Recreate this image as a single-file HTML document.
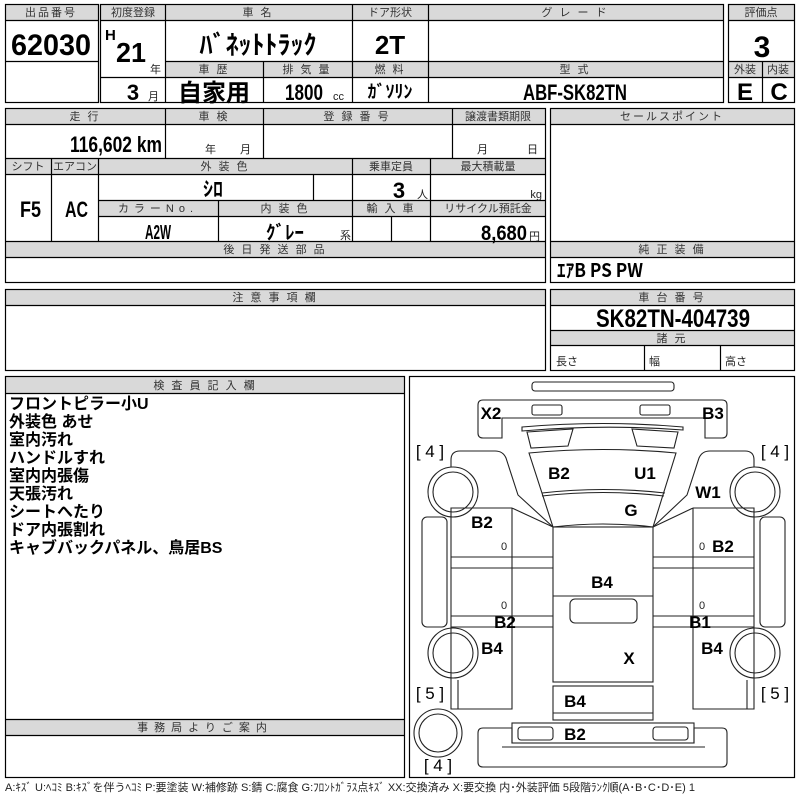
<!DOCTYPE html>
<html><head><meta charset="utf-8"><style>
html,body{margin:0;padding:0;background:#fff;}
svg{display:block;}
.h{font-family:"Liberation Sans","Noto Sans CJK JP",sans-serif;font-size:11px;fill:#333;text-anchor:middle;letter-spacing:2px;}
.v{font-family:"Liberation Sans Narrow","Liberation Sans","Noto Sans CJK JP",sans-serif;font-weight:bold;fill:#000;}
.s{font-family:"Liberation Sans","Noto Sans CJK JP",sans-serif;font-size:11px;fill:#222;}
.j{font-family:"Liberation Sans","Noto Sans CJK JP",sans-serif;font-weight:bold;font-size:16px;fill:#000;}
.d{font-family:"Liberation Sans","Noto Sans CJK JP",sans-serif;font-weight:bold;font-size:17px;fill:#000;text-anchor:middle;}
</style></head><body>
<svg width="800" height="800" viewBox="0 0 800 800" xmlns="http://www.w3.org/2000/svg">
<g fill="#d9d9d9" stroke="none">
<rect x="5" y="4" width="93" height="16"/>
<rect x="100" y="4" width="623" height="16"/>
<rect x="165" y="61" width="558" height="16"/>
<rect x="728" y="4" width="67" height="16"/>
<rect x="728" y="61" width="67" height="16"/>
<rect x="5" y="108" width="540" height="16"/>
<rect x="5" y="158" width="540" height="16"/>
<rect x="98" y="200" width="447" height="16"/>
<rect x="5" y="241" width="540" height="16"/>
<rect x="550" y="108" width="245" height="16"/>
<rect x="550" y="241" width="245" height="16"/>
<rect x="5" y="289" width="540" height="16"/>
<rect x="550" y="289" width="245" height="16"/>
<rect x="550" y="330" width="245" height="15"/>
<rect x="5" y="376" width="399" height="17"/>
<rect x="5" y="719" width="399" height="16"/>
</g>
<g fill="none" stroke="#000" stroke-width="1.2">
<rect x="5.5" y="4.5" width="93" height="98"/>
<path d="M5 20.5H98M5 61.5H98"/>
<rect x="100.5" y="4.5" width="623" height="98"/>
<path d="M100 20.5H723M165 61.5H723M100 77.5H723M165.5 4V102M352.5 4V102M428.5 4V102M263.5 61V102"/>
<rect x="728.5" y="4.5" width="66" height="98"/>
<path d="M728 20.5H795M728 61.5H795M728 77.5H795M762.5 61V102"/>
<rect x="5.5" y="108.5" width="540" height="174"/>
<path d="M5 124.5H545M5 158.5H545M5 174.5H545M98 200.5H545M98 216.5H545M5 241.5H545M5 257.5H545"/>
<path d="M165.5 108V158M263.5 108V158M452.5 108V158M51.5 158V241M98.5 158V241M352.5 158V241M430.5 158V241M218.5 200V241M313.5 174V200M391.5 216V241"/>
<rect x="550.5" y="108.5" width="244" height="174"/>
<path d="M550 124.5H795M550 241.5H795M550 257.5H795"/>
<rect x="5.5" y="289.5" width="540" height="81"/>
<path d="M5 305.5H545"/>
<rect x="550.5" y="289.5" width="244" height="81"/>
<path d="M550 305.5H795M550 330.5H795M550 345.5H795M644.5 345V370M720.5 345V370"/>
<rect x="5.5" y="376.5" width="399" height="401"/>
<path d="M5 393.5H404M5 719.5H404M5 735.5H404"/>
<rect x="409.5" y="376.5" width="385" height="401"/>
</g>
<!-- headers -->
<text class="h" x="51" y="16">出品番号</text>
<text class="h" x="133" y="16" style="letter-spacing:0">初度登録</text>
<text class="h" x="258" y="16">車 名</text>
<text class="h" x="390" y="16" style="letter-spacing:0">ドア形状</text>
<text class="h" x="575" y="16">グ レ ー ド</text>
<text class="h" x="761" y="16" style="letter-spacing:0">評価点</text>
<text class="h" x="214" y="73">車 歴</text>
<text class="h" x="307" y="73">排 気 量</text>
<text class="h" x="390" y="73">燃 料</text>
<text class="h" x="575" y="73">型 式</text>
<text class="h" x="745" y="73" style="letter-spacing:0">外装</text>
<text class="h" x="778" y="73" style="letter-spacing:0">内装</text>
<text class="h" x="85" y="120">走 行</text>
<text class="h" x="214" y="120">車 検</text>
<text class="h" x="357" y="120">登 録 番 号</text>
<text class="h" x="498" y="120" style="letter-spacing:0">譲渡書類期限</text>
<text class="h" x="672" y="120">セールスポイント</text>
<text class="h" x="28" y="170" style="letter-spacing:0">シフト</text>
<text class="h" x="75" y="170" style="letter-spacing:0">エアコン</text>
<text class="h" x="225" y="170">外 装 色</text>
<text class="h" x="391" y="170" style="letter-spacing:0">乗車定員</text>
<text class="h" x="488" y="170" style="letter-spacing:0">最大積載量</text>
<text class="h" x="158" y="212" style="letter-spacing:5px">カラーNo.</text>
<text class="h" x="285" y="212">内 装 色</text>
<text class="h" x="391" y="212">輸 入 車</text>
<text class="h" x="488" y="212" style="letter-spacing:0">リサイクル預託金</text>
<text class="h" x="275" y="253">後 日 発 送 部 品</text>
<text class="h" x="672" y="253">純 正 装 備</text>
<text class="h" x="275" y="301">注 意 事 項 欄</text>
<text class="h" x="672" y="301">車 台 番 号</text>
<text class="h" x="672" y="342">諸 元</text>
<text class="h" x="205" y="389">検 査 員 記 入 欄</text>
<text class="h" x="205" y="731" style="letter-spacing:6px">事務局よりご案内</text>
<!-- values -->
<text class="v" x="11" y="55" font-size="30" textLength="80" lengthAdjust="spacingAndGlyphs">62030</text>
<text class="v" x="105" y="40" font-size="15">H</text>
<text class="v" x="116" y="62" font-size="28" textLength="30" lengthAdjust="spacingAndGlyphs">21</text>
<text class="s" x="150" y="73">年</text>
<text class="v" x="133" y="100" font-size="22" text-anchor="middle">3</text>
<text class="s" x="148" y="100">月</text>
<text class="v" x="258" y="54" font-size="26" text-anchor="middle" style="font-family:'Noto Sans CJK JP',sans-serif">ﾊﾞﾈｯﾄﾄﾗｯｸ</text>
<text class="v" x="390" y="54" font-size="26" text-anchor="middle">2T</text>
<text class="v" x="762" y="57" font-size="30" text-anchor="middle">3</text>
<text class="v" x="214" y="101" font-size="24" text-anchor="middle" style="font-family:'Noto Sans CJK JP',sans-serif">自家用</text>
<text class="v" x="285" y="100" font-size="22" textLength="38" lengthAdjust="spacingAndGlyphs">1800</text>
<text class="s" x="333" y="100">cc</text>
<text class="v" x="390" y="98" font-size="18" text-anchor="middle" style="font-family:'Noto Sans CJK JP',sans-serif">ｶﾞｿﾘﾝ</text>
<text class="v" x="523" y="100" font-size="22" textLength="104" lengthAdjust="spacingAndGlyphs">ABF-SK82TN</text>
<text class="v" x="745" y="100" font-size="24" text-anchor="middle">E</text>
<text class="v" x="779" y="100" font-size="24" text-anchor="middle">C</text>
<text class="v" x="70" y="152" font-size="22" textLength="92" lengthAdjust="spacingAndGlyphs">116,602 km</text>
<text class="s" x="205" y="153">年</text>
<text class="s" x="240" y="153">月</text>
<text class="s" x="477" y="153">月</text>
<text class="s" x="527" y="153">日</text>
<text class="v" x="213" y="196" font-size="20" text-anchor="middle" style="font-family:'Noto Sans CJK JP',sans-serif">ｼﾛ</text>
<text class="v" x="399" y="198" font-size="22" text-anchor="middle">3</text>
<text class="s" x="417" y="198">人</text>
<text class="s" x="542" y="198" text-anchor="end">kg</text>
<text class="v" x="20" y="217" font-size="22" textLength="21" lengthAdjust="spacingAndGlyphs">F5</text>
<text class="v" x="65" y="217" font-size="22" textLength="23" lengthAdjust="spacingAndGlyphs">AC</text>
<text class="v" x="145" y="239" font-size="20" textLength="26" lengthAdjust="spacingAndGlyphs">A2W</text>
<text class="v" x="285" y="239" font-size="19" text-anchor="middle" style="font-family:'Noto Sans CJK JP',sans-serif">ｸﾞﾚｰ</text>
<text class="s" x="340" y="239">系</text>
<text class="v" x="481" y="240" font-size="21" textLength="46" lengthAdjust="spacingAndGlyphs">8,680</text>
<text class="s" x="529" y="240">円</text>
<text class="v" x="557" y="277" font-size="19" style="font-family:'Noto Sans CJK JP',sans-serif" textLength="86" lengthAdjust="spacingAndGlyphs">ｴｱB PS PW</text>
<text class="v" x="596" y="327" font-size="25" textLength="154" lengthAdjust="spacingAndGlyphs">SK82TN-404739</text>
<text class="s" x="556" y="365" font-size="13">長さ</text>
<text class="s" x="649" y="365" font-size="13">幅</text>
<text class="s" x="725" y="365" font-size="13">高さ</text>
<!-- inspector -->
<text class="j" x="9" y="409">フロントピラー小U</text>
<text class="j" x="9" y="427">外装色 あせ</text>
<text class="j" x="9" y="445">室内汚れ</text>
<text class="j" x="9" y="463">ハンドルすれ</text>
<text class="j" x="9" y="481">室内内張傷</text>
<text class="j" x="9" y="499">天張汚れ</text>
<text class="j" x="9" y="517">シートへたり</text>
<text class="j" x="9" y="535">ドア内張割れ</text>
<text class="j" x="9" y="553">キャブバックパネル、鳥居BS</text>
<!-- diagram -->
<g fill="none" stroke="#222" stroke-width="1.1">
<rect x="532" y="382" width="142" height="9" rx="3"/>
<path d="M478 405Q478 400 483 400H722Q727 400 727 405V433Q727 438 722 438H705V418H502V438H483Q478 438 478 433Z"/>
<rect x="532" y="405" width="30" height="10" rx="2"/>
<rect x="640" y="405" width="30" height="10" rx="2"/>
<path d="M522 427Q603 420 683 427L683 430Q603 424 522 431Z"/>
<path d="M527 432L573 429L568 446L531 448Z"/>
<path d="M678 432L632 429L637 446L674 448Z"/>
<path d="M529 453Q603 446 676 453L653 527Q603 521 553 527Z"/>
<path d="M542 493Q603 486 665 493M542 496Q603 489 664 496"/>
<rect x="553" y="527" width="100" height="155"/>
<path d="M553 596H653"/>
<rect x="570" y="599" width="67" height="24" rx="5"/>
<rect x="553" y="686" width="100" height="34"/>
<path d="M553 713H653"/>
<path d="M483 728H512V743H694V728H722Q727 728 727 733V762Q727 767 722 767H483Q478 767 478 762V733Q478 728 483 728Z"/>
<path d="M502 747H705"/>
<rect x="512" y="723" width="182" height="20"/>
<rect x="518" y="727" width="35" height="13" rx="3"/>
<rect x="653" y="727" width="35" height="13" rx="3"/>
<path d="M451 508H512V709H451Z M451 557H553M451 568H553M451 616H553M451 627H553M512 508L553 527"/>
<path d="M451 467V460Q451 451 460 451H495Q503 451 506 458L518 495L553 527"/>
<path d="M754 508H693V709H754Z M754 557H653M754 568H653M754 616H653M754 627H653M693 508L653 527"/>
<path d="M754 467V460Q754 451 745 451H710Q702 451 699 458L687 495L653 527"/>
<rect x="422" y="517" width="25" height="110" rx="5"/>
<rect x="760" y="517" width="25" height="110" rx="5"/>
<circle cx="453" cy="492" r="25"/><circle cx="453" cy="492" r="20"/>
<circle cx="755" cy="492" r="25"/><circle cx="755" cy="492" r="20"/>
<circle cx="453" cy="653" r="25"/><circle cx="453" cy="653" r="20"/>
<circle cx="755" cy="653" r="25"/><circle cx="755" cy="653" r="20"/>
<circle cx="438" cy="733" r="24"/><circle cx="438" cy="733" r="19"/>
<path d="M458 680V709M747 680V709"/>
</g>
<g class="s" font-size="12" text-anchor="middle">
<text x="504" y="550" text-anchor="middle">0</text><text x="702" y="550" text-anchor="middle">0</text>
<text x="504" y="609" text-anchor="middle">0</text><text x="702" y="609" text-anchor="middle">0</text>
</g>
<g class="d">
<text x="491" y="419">X2</text><text x="713" y="419">B3</text>
<text x="430" y="457" font-weight="normal">[ 4 ]</text><text x="775" y="457" font-weight="normal">[ 4 ]</text>
<text x="559" y="479">B2</text><text x="645" y="479">U1</text>
<text x="708" y="498">W1</text><text x="631" y="516">G</text>
<text x="482" y="528">B2</text><text x="723" y="552">B2</text>
<text x="602" y="588">B4</text>
<text x="505" y="628">B2</text><text x="700" y="628">B1</text>
<text x="492" y="654">B4</text><text x="712" y="654">B4</text>
<text x="629" y="664">X</text>
<text x="430" y="699" font-weight="normal">[ 5 ]</text><text x="775" y="699" font-weight="normal">[ 5 ]</text>
<text x="575" y="707">B4</text><text x="575" y="740">B2</text>
<text x="438" y="771" font-weight="normal">[ 4 ]</text>
</g>
<text class="s" x="5" y="791" font-size="10" textLength="690" lengthAdjust="spacingAndGlyphs">A:ｷｽﾞ U:ﾍｺﾐ B:ｷｽﾞを伴うﾍｺﾐ P:要塗装 W:補修跡 S:錆 C:腐食 G:ﾌﾛﾝﾄｶﾞﾗｽ点ｷｽﾞ XX:交換済み X:要交換 内･外装評価 5段階ﾗﾝｸ順(A･B･C･D･E) 1</text>
</svg>
</body></html>
